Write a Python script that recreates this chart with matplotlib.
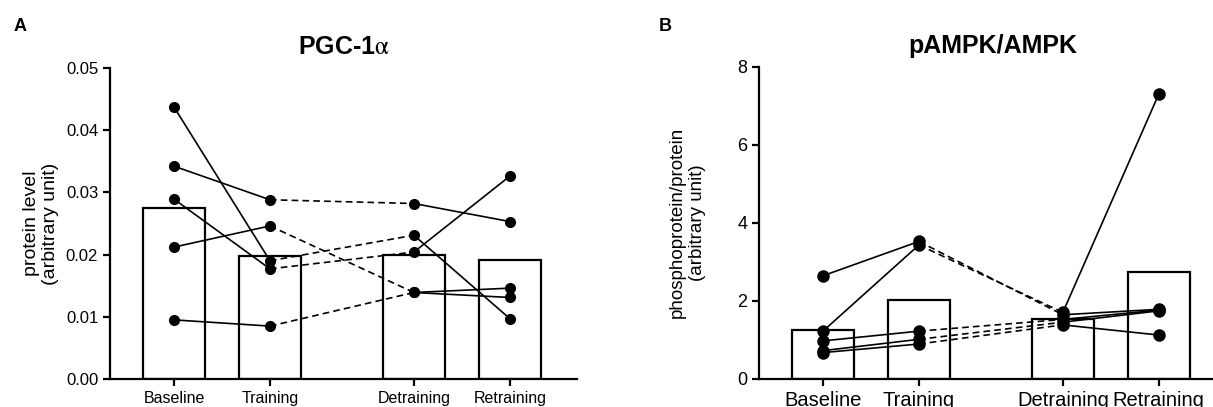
import numpy as np
import matplotlib
import matplotlib.pyplot as plt

plt.rcParams['font.family'] = ['Liberation Sans', 'DejaVu Sans']
plt.rcParams['mathtext.fontset'] = 'stix'

# Groups and x positions (gap between Training and Detraining)
groups = ["Baseline", "Training", "Detraining", "Retraining"]
xpos = [0, 1, 2.5, 3.5]

# Panel A: PGC-1alpha, one row per subject
pgc_baseline = [0.0437, 0.0342, 0.0289, 0.0212, 0.0095]
pgc_training = [0.0190, 0.0288, 0.0177, 0.0246, 0.0085]
pgc_detraining = [0.0231, 0.0282, 0.0204, 0.0139, 0.0139]
pgc_retraining = [0.0097, 0.0253, 0.0326, 0.0146, 0.0131]

# Panel B: pAMPK/AMPK
ampk_baseline = [2.64, 1.22, 0.97, 0.72, 0.67]
ampk_training = [3.52, 3.43, 1.22, 1.01, 0.89]
ampk_detraining = [1.64, 1.70, 1.52, 1.45, 1.38]
ampk_retraining = [1.78, 7.30, 1.76, 1.74, 1.12]


def draw_panel(ax, data, ms, lw=1.2):
    data = np.array(data)
    means = data.mean(axis=1)
    ax.bar(xpos, means, width=0.65, facecolor="white", edgecolor="black",
           linewidth=1.6, zorder=1)
    # segment styles: solid, dashed, solid
    styles = ["-", (0, (4, 2.5)), "-"]
    for s in range(data.shape[1]):
        for k in range(3):
            ax.plot([xpos[k], xpos[k + 1]], [data[k, s], data[k + 1, s]],
                    color="black", lw=lw, linestyle=styles[k], zorder=2)
        ax.plot(xpos, data[:, s], linestyle="none", marker="o",
                color="black", ms=ms, zorder=3)
    for side in ["top", "right"]:
        ax.spines[side].set_visible(False)
    for side in ["left", "bottom"]:
        ax.spines[side].set_linewidth(1.6)
    ax.tick_params(width=1.6, length=5, direction="out")
    ax.set_xticks(xpos)
    ax.set_xticklabels(groups)


fig = plt.figure(figsize=(12.13, 4.07), dpi=100)

axA = fig.add_axes([0.0907, 0.0688, 0.385, 0.7645])
draw_panel(axA, [pgc_baseline, pgc_training, pgc_detraining, pgc_retraining], ms=7)
axA.set_xlim(-0.667, 4.2)
axA.set_ylim(0, 0.05)
axA.set_yticks([0, 0.01, 0.02, 0.03, 0.04, 0.05])
axA.set_yticklabels(["0.00", "0.01", "0.02", "0.03", "0.04", "0.05"])
axA.tick_params(axis="y", labelsize=12)
axA.tick_params(axis="x", labelsize=11.5)
axA.set_ylabel("protein level\n(arbitrary unit)", fontsize=14, linespacing=1.15,
               labelpad=5)
axA.set_title(r"PGC-1$\mathrm{\alpha}$", fontsize=18, fontweight="bold", pad=10)

axB = fig.add_axes([0.6257, 0.0695, 0.385, 0.7665])
draw_panel(axB, [ampk_baseline, ampk_training, ampk_detraining, ampk_retraining], ms=8)
axB.set_xlim(-0.667, 4.2)
axB.set_ylim(0, 8)
axB.set_yticks([0, 2, 4, 6, 8])
axB.tick_params(axis="y", labelsize=13)
axB.tick_params(axis="x", labelsize=14.5)
axB.set_ylabel("phosphoprotein/protein\n(arbitrary unit)", fontsize=13.5,
               linespacing=1.25, labelpad=22)
axB.set_title("pAMPK/AMPK", fontsize=18, fontweight="bold", pad=10)

fig.text(0.011, 0.935, "A", fontsize=13, fontweight="bold", va="center")
fig.text(0.543, 0.935, "B", fontsize=13, fontweight="bold", va="center")

fig.savefig("out.png", dpi=100)
